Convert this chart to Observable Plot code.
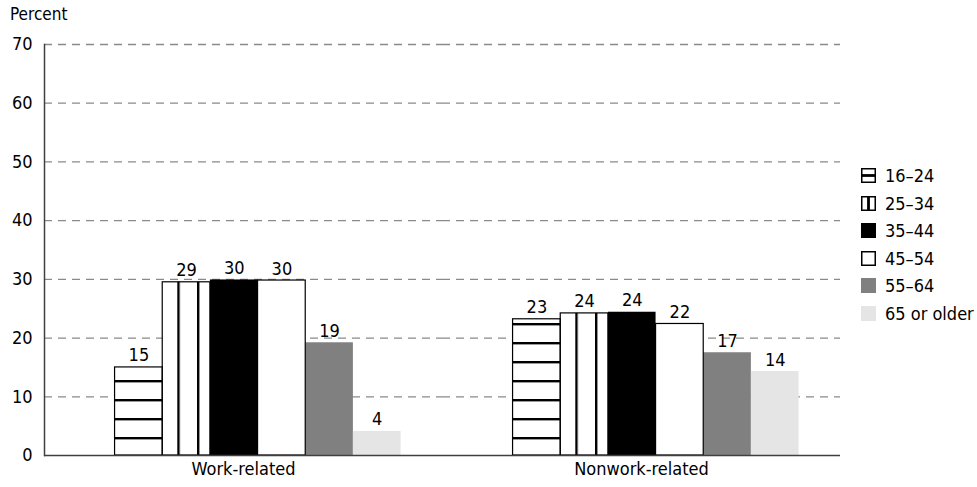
<!DOCTYPE html>
<html>
<head>
<meta charset="utf-8">
<script src="https://cdn.jsdelivr.net/npm/d3@7"></script>
<script src="https://cdn.jsdelivr.net/npm/@observablehq/plot@0.6"></script>
<style>
  html, body { margin: 0; padding: 0; background: #fff; }
  #wrap { position: relative; width: 977px; height: 487px; font-family: "Liberation Sans Narrow", "DejaVu Sans Condensed", sans-serif; color: #000; }
  #wrap svg.plot { position: absolute; left: 0; top: 0; }
  #ylabel { position: absolute; left: 10px; top: 4px; font-size: 17px; }
  .leg { position: absolute; left: 861px; font-size: 18px; display: flex; align-items: center; white-space: nowrap; }
  .leg svg { margin-right: 9px; }
</style>
</head>
<body>
<div id="wrap">
  <div id="ylabel">Percent</div>
</div>
<script>
const groups = ["Work-related", "Nonwork-related"];
const ages = ["16–24", "25–34", "35–44", "45–54", "55–64", "65 or older"];
const workValues = [15.0, 29.5, 29.9, 29.8, 19.2, 4.1];
const nonworkValues = [23.2, 24.2, 24.4, 22.4, 17.5, 14.3];
const workLabels = [15, 29, 30, 30, 19, 4];
const nonworkLabels = [23, 24, 24, 22, 17, 14];
const yTicks = [0, 10, 20, 30, 40, 50, 60, 70];

const fills = ["url(#hlines)", "url(#vlines)", "#000000", "#ffffff", "#808080", "#e5e5e5"];
const outlined = ["16–24", "25–34", "45–54"];
const FONT = '"Liberation Sans Narrow", "DejaVu Sans Condensed", sans-serif';

const data = groups.flatMap((g, gi) => ages.map((a, ai) => ({
  group: g,
  age: a,
  value: (gi ? nonworkValues : workValues)[ai],
  label: (gi ? nonworkLabels : workLabels)[ai]
})));

const plot = Plot.plot({
  width: 977,
  height: 487,
  marginLeft: 44,
  marginRight: 137,
  marginTop: 44,
  marginBottom: 32,
  style: { fontFamily: FONT, fontSize: "18px", color: "#000", background: "transparent" },
  fx: { domain: groups, padding: 0, label: null, round: false },
  x: { domain: ages, paddingInner: 0, paddingOuter: 1.175, align: 0.63, round: false, axis: null },
  y: { domain: [0, 70], label: null },
  color: { domain: ages, range: fills },
  marks: [
    Plot.ruleY(yTicks.filter(t => t > 0), { stroke: "#8a8a8a", strokeWidth: 1.3, strokeDasharray: "8,6" }),
    Plot.barY(data, { fx: "group", x: "age", y: "value", fill: "age" }),
    Plot.barY(data.filter(d => outlined.includes(d.age)), { fx: "group", x: "age", y: "value", fill: "none", stroke: "#000", strokeWidth: 1.2 }),
    Plot.text(data, { fx: "group", x: "age", y: "value", text: "label", dy: -6, lineAnchor: "bottom", fontSize: 18 }),
    Plot.ruleY([0], { stroke: "#404040", strokeWidth: 1.5 }),
    Plot.axisY({ ticks: yTicks, tickSize: 0, tickPadding: 12, fontSize: 18, label: null }),
    Plot.axisFx({ anchor: "bottom", tickSize: 0, tickPadding: 7, fontSize: 18, label: null }),
    Plot.frame({ anchor: "left", facetAnchor: "left", stroke: "#404040", strokeWidth: 1.5 })
  ]
});
plot.classList.add("plot");

// SVG pattern definitions for the hatched bars
const defs = d3.select(plot).insert("defs", ":first-child");
const h = defs.append("pattern").attr("id", "hlines").attr("patternUnits", "userSpaceOnUse")
  .attr("width", 20).attr("height", 19);
h.append("rect").attr("width", 20).attr("height", 19).attr("fill", "#fff");
h.append("rect").attr("y", 0).attr("width", 20).attr("height", 2.4).attr("fill", "#000");
const v = defs.append("pattern").attr("id", "vlines").attr("patternUnits", "userSpaceOnUse")
  .attr("width", 19.7).attr("height", 20);
v.append("rect").attr("width", 19.7).attr("height", 20).attr("fill", "#fff");
v.append("rect").attr("x", 0).attr("width", 2.4).attr("height", 20).attr("fill", "#000");

const wrap = document.getElementById("wrap");
wrap.appendChild(plot);

// Legend
const legendTops = [165, 193, 220, 248, 275, 303];
ages.forEach((a, i) => {
  const row = document.createElement("div");
  row.className = "leg";
  row.style.top = legendTops[i] + "px";
  const s = d3.create("svg").attr("width", 15).attr("height", 15);
  const f = i === 0 || i === 1 ? "#fff" : fills[i];
  const stroked = outlined.includes(a);
  s.append("rect").attr("x", stroked ? 0.75 : 0).attr("y", stroked ? 0.75 : 0)
    .attr("width", stroked ? 13.5 : 15).attr("height", stroked ? 13.5 : 15)
    .attr("fill", f).attr("stroke", stroked ? "#000" : "none").attr("stroke-width", 1.5);
  if (i === 0) s.append("rect").attr("x", 0).attr("y", 6.1).attr("width", 15).attr("height", 2.8).attr("fill", "#000");
  if (i === 1) s.append("rect").attr("x", 6.1).attr("y", 0).attr("width", 2.8).attr("height", 15).attr("fill", "#000");
  row.appendChild(s.node());
  const t = document.createElement("span");
  t.textContent = a;
  row.appendChild(t);
  wrap.appendChild(row);
});
</script>
</body>
</html>
